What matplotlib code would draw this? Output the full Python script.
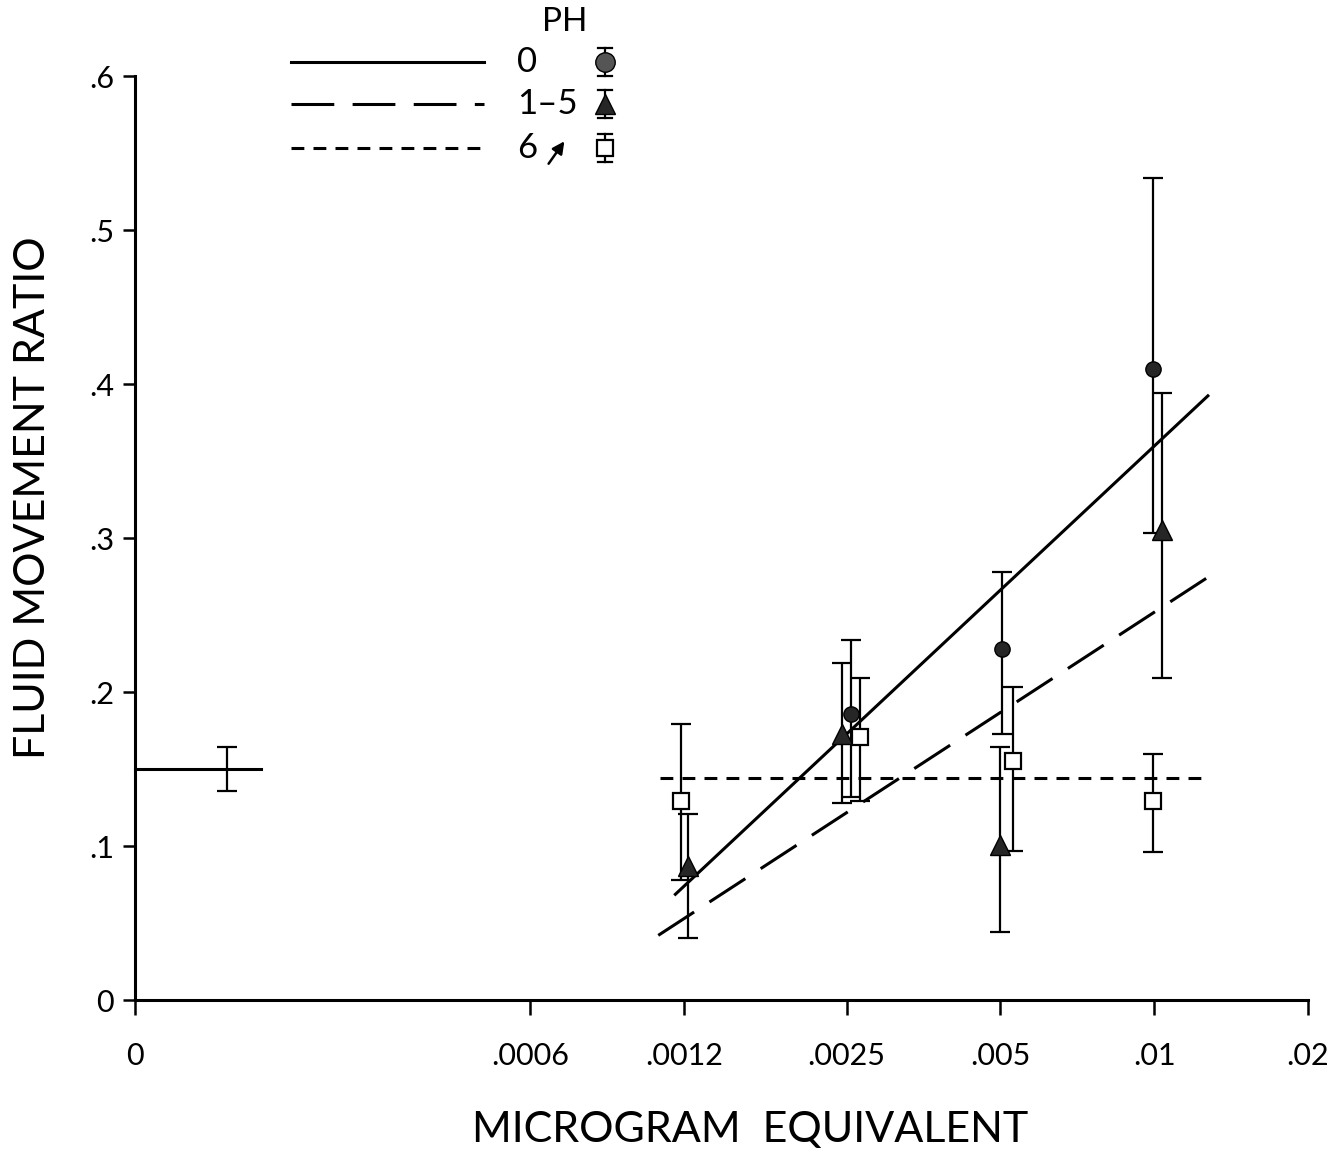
import numpy as np
import matplotlib
matplotlib.use('Agg')
import matplotlib.pyplot as plt
from matplotlib.lines import Line2D

plt.rcParams['font.family'] = ['Lato', 'DejaVu Sans']

# Dose levels (microgram equivalent) and tick labels
doses = [0.0012, 0.0025, 0.005, 0.01]
tick_doses = [0.0006, 0.0012, 0.0025, 0.005, 0.01, 0.02]
tick_labels = ['.0006', '.0012', '.0025', '.005', '.01', '.02']
ytick_vals = [0, 0.1, 0.2, 0.3, 0.4, 0.5, 0.6]
ytick_labels = ['0', '.1', '.2', '.3', '.4', '.5', '.6']

# PH 0 (circles)
ph0_dose = [0.0025, 0.005, 0.01]
ph0_mean = [0.186, 0.228, 0.410]
ph0_hi = [0.234, 0.278, 0.534]
ph0_lo = [0.132, 0.173, 0.303]

# PH 1-5 (triangles)
ph15_dose = [0.0012, 0.0025, 0.005, 0.01]
ph15_mean = [0.087, 0.173, 0.101, 0.305]
ph15_hi = [0.121, 0.219, 0.164, 0.394]
ph15_lo = [0.040, 0.128, 0.044, 0.209]

# PH 6+ (squares)
ph6_dose = [0.0012, 0.0025, 0.005, 0.01]
ph6_mean = [0.129, 0.171, 0.155, 0.129]
ph6_hi = [0.179, 0.209, 0.203, 0.160]
ph6_lo = [0.078, 0.129, 0.097, 0.096]

# control (dose 0)
ctrl_mean = 0.150
ctrl_hi = 0.164
ctrl_lo = 0.136

# fitted lines (end points)
fit0_x = [0.00115, 0.0128]
fit0_y = [0.068, 0.393]
fit15_x = [0.00107, 0.0128]
fit15_y = [0.042, 0.275]
fit6_x = [0.00108, 0.0125]
fit6_y = [0.144, 0.144]

# x axis: log2 of dose, with "0" placed at the left end of the axis
X0 = -13.27
XMAX = np.log2(0.02)


def pos(d):
    return np.log2(np.asarray(d, dtype=float))


fig = plt.figure(figsize=(13.42, 11.52), dpi=100)
ax = fig.add_axes([0.1006, 0.1319, 0.8741, 0.8021])
ax.set_xlim(X0, XMAX)
ax.set_ylim(0, 0.6)

for s in ['top', 'right']:
    ax.spines[s].set_visible(False)
for s in ['left', 'bottom']:
    ax.spines[s].set_linewidth(2.2)

ax.set_xticks([X0] + list(pos(tick_doses)))
ax.set_xticklabels(['0'] + tick_labels)
ax.set_yticks(ytick_vals)
ax.set_yticklabels(ytick_labels)
ax.tick_params(axis='x', direction='out', length=11, width=1.8, pad=19, labelsize=22)
ax.tick_params(axis='y', direction='out', length=9, width=1.8, pad=6, labelsize=22)

ax.set_xlabel('MICROGRAM  EQUIVALENT', fontsize=31, va='center')
ax.xaxis.set_label_coords(0.524, -0.141)
ax.set_ylabel('FLUID MOVEMENT RATIO', fontsize=31, va='center')
ax.yaxis.set_label_coords(-0.087, 0.544)

# fitted lines
ax.plot(pos(fit0_x), fit0_y, color='black', lw=2.2, solid_capstyle='butt')
ax.plot(pos(fit15_x), fit15_y, color='black', lw=2.2, dashes=(14, 6))
ax.plot(pos(fit6_x), fit6_y, color='black', lw=2.2, dashes=(4.2, 3))

# small horizontal shifts so overlapping points stay visible
shift0 = [0.026, 0.013, -0.006]
shift15 = [0.03, -0.03, 0.0, 0.05]
shift6 = [-0.02, 0.09, 0.08, -0.006]

err_kw = dict(ecolor='black', elinewidth=1.6, capsize=7, capthick=1.6, ls='none')


def draw(d, m, hi, lo, shift, **mk):
    x = pos(d) + np.array(shift)
    m = np.array(m)
    yerr = [m - np.array(lo), np.array(hi) - m]
    ax.errorbar(x, m, yerr=yerr, **err_kw, **mk, zorder=3)


draw(ph0_dose, ph0_mean, ph0_hi, ph0_lo, shift0,
     marker='o', ms=11, mfc='#262626', mec='black')
draw(ph15_dose, ph15_mean, ph15_hi, ph15_lo, shift15,
     marker='^', ms=14, mfc='#262626', mec='black')
draw(ph6_dose, ph6_mean, ph6_hi, ph6_lo, shift6,
     marker='s', ms=11, mfc='white', mec='black', mew=1.6)

# control
ax.plot([X0, X0 + 0.82], [ctrl_mean, ctrl_mean], color='black', lw=2.2, clip_on=False)
ax.errorbar([X0 + 0.6], [ctrl_mean], yerr=[[ctrl_mean - ctrl_lo], [ctrl_hi - ctrl_mean]],
            **err_kw)

# legend drawn by hand in figure coordinates
W, H = 1342, 1152


def fx(p):
    return p / W


def fy(p):
    return 1 - p / H


fig.text(fx(565), fy(22), 'PH', fontsize=24, ha='center', va='center')
rows = [(62, '0', dict(ls='-'), dict(marker='o', ms=14, mfc='#555555', mec='black')),
        (104, '1\u20135', dict(dashes=(14, 6)), dict(marker='^', ms=15, mfc='#262626', mec='black')),
        (148, '6', dict(dashes=(4.2, 3)), dict(marker='s', ms=11, mfc='white', mec='black', mew=1.6))]
for y, lab, lstyle, mstyle in rows:
    fig.add_artist(Line2D([fx(291), fx(484)], [fy(y), fy(y)], color='black', lw=2.2,
                          transform=fig.transFigure, **lstyle))
    fig.text(fx(517), fy(y), lab, fontsize=25, ha='left', va='center')
    fig.add_artist(Line2D([fx(605), fx(605)], [fy(y - 14), fy(y + 14)], color='black',
                          lw=1.6, transform=fig.transFigure))
    for cy in (y - 14, y + 14):
        fig.add_artist(Line2D([fx(598), fx(612)], [fy(cy), fy(cy)], color='black',
                              lw=1.6, transform=fig.transFigure))
    fig.add_artist(Line2D([fx(605)], [fy(y)], ls='none', transform=fig.transFigure, **mstyle))

fig.add_artist(matplotlib.patches.FancyArrowPatch(
    (fx(547), fy(166)), (fx(566), fy(139)), transform=fig.transFigure,
    arrowstyle='-|>', mutation_scale=18, color='black', lw=1.8))

fig.savefig('out.png', dpi=100)
